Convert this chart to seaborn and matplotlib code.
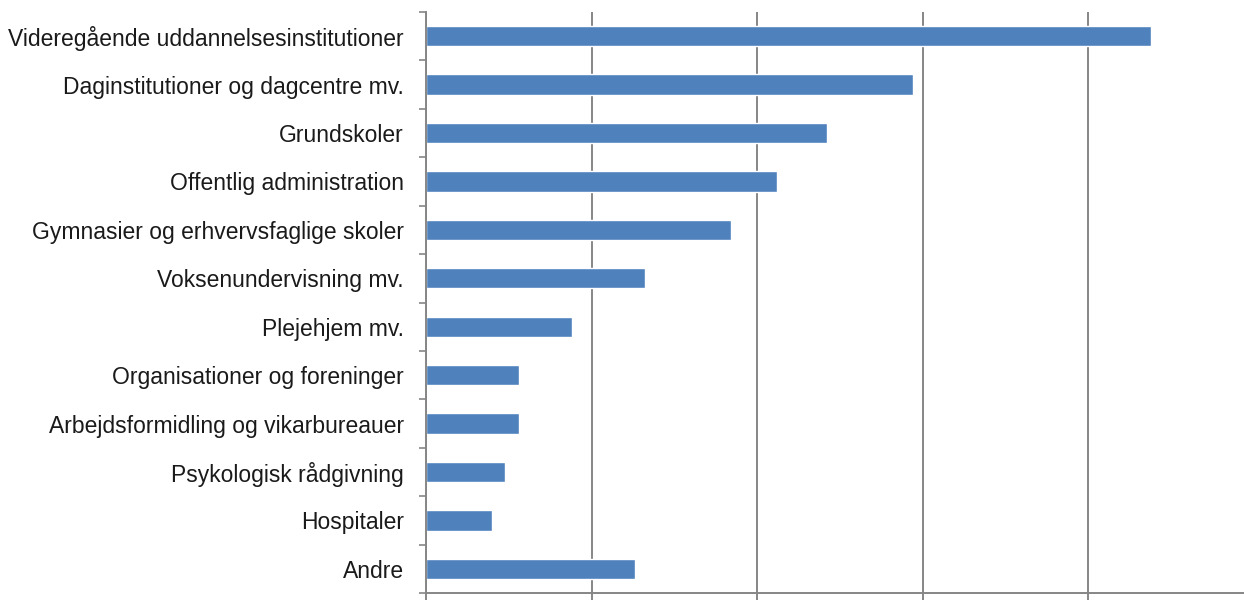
import matplotlib

matplotlib.use('Agg')
import matplotlib.pyplot as plt
import pandas as pd
import seaborn as sns

# categories and shares (gridline every 5)
categories = ['Videregående uddannelsesinstitutioner',
              'Daginstitutioner og dagcentre mv.',
              'Grundskoler',
              'Offentlig administration',
              'Gymnasier og erhvervsfaglige skoler',
              'Voksenundervisning mv.',
              'Plejehjem mv.',
              'Organisationer og foreninger',
              'Arbejdsformidling og vikarbureauer',
              'Psykologisk rådgivning',
              'Hospitaler',
              'Andre']
values = [21.9, 14.7, 12.1, 10.6, 9.2, 6.6, 4.4, 2.8, 2.8, 2.4, 2.0, 6.3]
grid_ticks = [0, 5, 10, 15, 20, 25]

df = pd.DataFrame({'category': categories, 'value': values})

sns.set_style('white')
plt.rcParams['font.family'] = ['Liberation Sans', 'DejaVu Sans']

fig = plt.figure(figsize=(12.44, 6), dpi=100)
# axes run a little past the right edge, like the cropped original
ax = fig.add_axes([426 / 1244, 7 / 600, 828 / 1244, 581 / 600])

sns.barplot(data=df, x='value', y='category', order=categories, color='#4F81BD',
            saturation=1, width=0.42, orient='h', ax=ax)

ax.set_xlim(0, 25)
ax.set_ylim(len(categories) - 0.5, -0.5)
ax.set_xticks(grid_ticks)
ax.set_xticklabels([])
ax.set_xlabel('')
ax.set_ylabel('')
ax.xaxis.grid(True, color='#868686', linewidth=1.4)
ax.set_axisbelow(True)

# category boundary ticks on the y axis
ax.set_yticks(range(len(categories)))
ax.set_yticklabels(categories, fontsize=16.5, color='#1a1a1a')
ax.set_yticks([i - 0.5 for i in range(len(categories) + 1)], minor=True)
ax.tick_params(axis='y', which='major', length=0, pad=16)
ax.tick_params(axis='y', which='minor', length=5, width=1.2, color='#868686', direction='out', left=True)
ax.tick_params(axis='x', length=7, width=1.4, color='#868686', direction='out', bottom=True)

for side in ['top', 'right']:
    ax.spines[side].set_visible(False)
for side in ['left', 'bottom']:
    ax.spines[side].set_color('#868686')
    ax.spines[side].set_linewidth(1.4)

fig.savefig('out.png', dpi=100, facecolor='white')
